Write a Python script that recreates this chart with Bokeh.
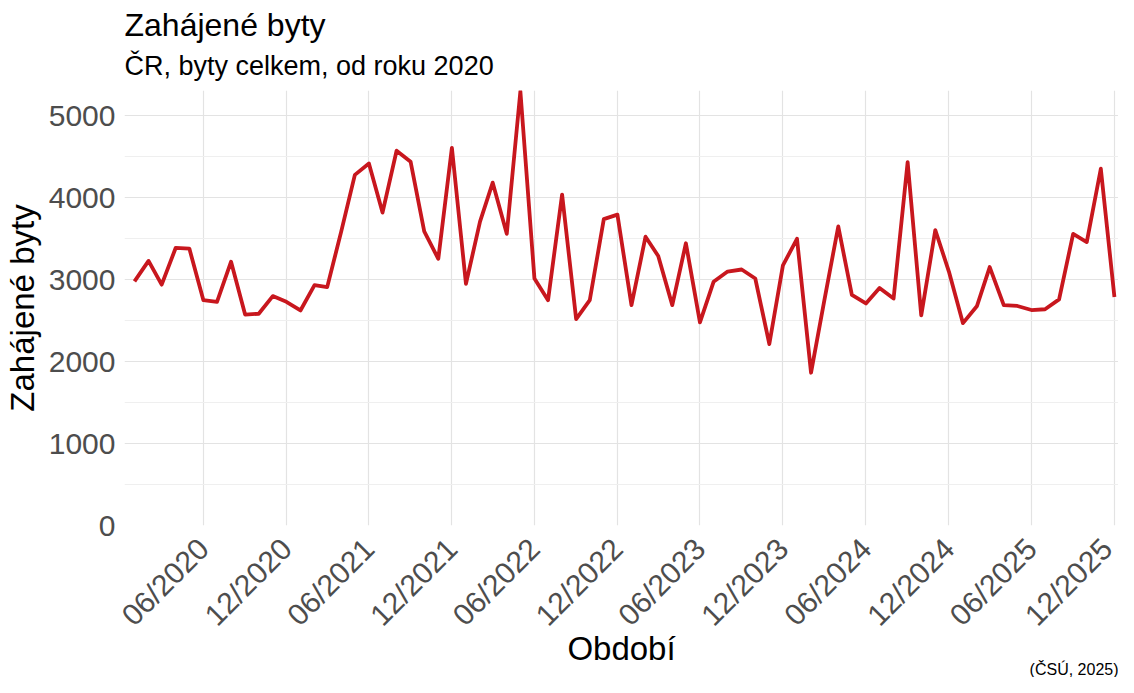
import math
import pandas as pd
from bokeh.plotting import figure
from bokeh.models import (FixedTicker, DatetimeTickFormatter, Title, Range1d,
                          ColumnDataSource)
from bokeh.embed import file_html
from bokeh.resources import INLINE

# ---- data ----
start_month = "2020-01"
n_months = 72
values = [
    2980, 3230, 2940, 3390, 3380, 2750, 2730, 3220, 2575, 2585, 2800, 2730,   # 2020
    2625, 2935, 2910, 3590, 4280, 4420, 3820, 4575, 4440, 3590, 3255, 4610,   # 2021
    2950, 3710, 4185, 3560, 5300, 3015, 2750, 4040, 2520, 2750, 3740, 3795,   # 2022
    2690, 3525, 3290, 2690, 3445, 2480, 2975, 3100, 3125, 3015, 2215, 3175,   # 2023
    3500, 1865, 2740, 3650, 2815, 2710, 2900, 2770, 4435, 2565, 3605, 3100,   # 2024
    2470, 2680, 3155, 2690, 2680, 2630, 2640, 2760, 3560, 3460, 4355, 2790,   # 2025
]
x_tick_labels = ["06/2020", "12/2020", "06/2021", "12/2021", "06/2022", "12/2022",
                 "06/2023", "12/2023", "06/2024", "12/2024", "06/2025", "12/2025"]
y_ticks = [0, 1000, 2000, 3000, 4000, 5000]
y_minor = [500, 1500, 2500, 3500, 4500]

title_text = "Zahájené byty"
subtitle_text = "ČR, byty celkem, od roku 2020"
x_title = "Období"
y_title = "Zahájené byty"
caption_text = "(ČSÚ, 2025)"

dates = pd.date_range(start_month + "-01", periods=n_months, freq="MS")
src = ColumnDataSource(dict(date=dates, value=values))

tick_dates = pd.to_datetime(["01/" + t for t in x_tick_labels], format="%d/%m/%Y")
tick_ms = [int(d.value // 10**6) for d in tick_dates]

FONT = "Liberation Sans"
Y_MAX = 5310

p = figure(width=1118, height=677, x_axis_type="datetime",
           output_backend="svg", toolbar_location=None, title=None,
           min_border_left=119, min_border_right=0, min_border_top=0,
           min_border_bottom=0)

x0 = pd.Timestamp("2019-12-10")
x1 = pd.Timestamp("2025-12-10")
p.x_range = Range1d(x0, x1)
p.y_range = Range1d(0, Y_MAX)

p.line("date", "value", source=src, line_color="#C8171E", line_width=3.8,
       line_join="round")

# titles (first added sits closest to the frame)
p.add_layout(Title(text=subtitle_text, text_font_size="27px", text_font=FONT,
                   text_font_style="normal", text_color="black", align="left",
                   standoff=20), "above")
p.add_layout(Title(text=title_text, text_font_size="32px", text_font=FONT,
                   text_font_style="normal", text_color="black", align="left",
                   standoff=-8), "above")
p.add_layout(Title(text=" ", text_font_size="6px", text_font=FONT,
                   standoff=0), "above")

# axes
xa = p.xaxis[0]
xa.ticker = FixedTicker(ticks=tick_ms)
xa.formatter = DatetimeTickFormatter(days="%m/%Y", months="%m/%Y", years="%m/%Y")
xa.major_label_orientation = math.pi / 4
ya = p.yaxis[0]
ya.ticker = FixedTicker(ticks=y_ticks, minor_ticks=y_minor)

for ax in (xa, ya):
    ax.axis_line_color = None
    ax.major_tick_line_color = None
    ax.minor_tick_line_color = None
    ax.major_label_text_font = FONT
    ax.major_label_text_font_size = "30px"
    ax.major_label_text_color = "#4d4d4d"
    ax.axis_label_text_font = FONT
    ax.axis_label_text_font_size = "33px"
    ax.axis_label_text_font_style = "normal"
    ax.axis_label_text_color = "black"

xa.axis_label = x_title
ya.axis_label = y_title
xa.major_label_standoff = 12
ya.major_label_standoff = 3
xa.axis_label_standoff = -17
ya.axis_label_standoff = 5
xa.axis_label_text_line_height = 0.6

# caption below, bottom right, then a small spacer under it
p.add_layout(Title(text=caption_text, text_font_size="16px", text_font=FONT,
                   text_font_style="normal", text_color="black", align="right",
                   vertical_align="middle", standoff=-25, offset=0), "below")
p.add_layout(Title(text=" ", text_font_size="6px", text_font=FONT,
                   standoff=0), "below")

# grid
p.xgrid.grid_line_color = "#e3e3e3"
p.xgrid.grid_line_width = 1.2
p.ygrid.grid_line_color = "#e3e3e3"
p.ygrid.grid_line_width = 1.2
p.ygrid.minor_grid_line_color = "#efefef"
p.ygrid.minor_grid_line_width = 1.0
p.outline_line_color = None
p.background_fill_color = "white"
p.border_fill_color = "white"

open("out.html", "w").write(file_html(p, INLINE))
